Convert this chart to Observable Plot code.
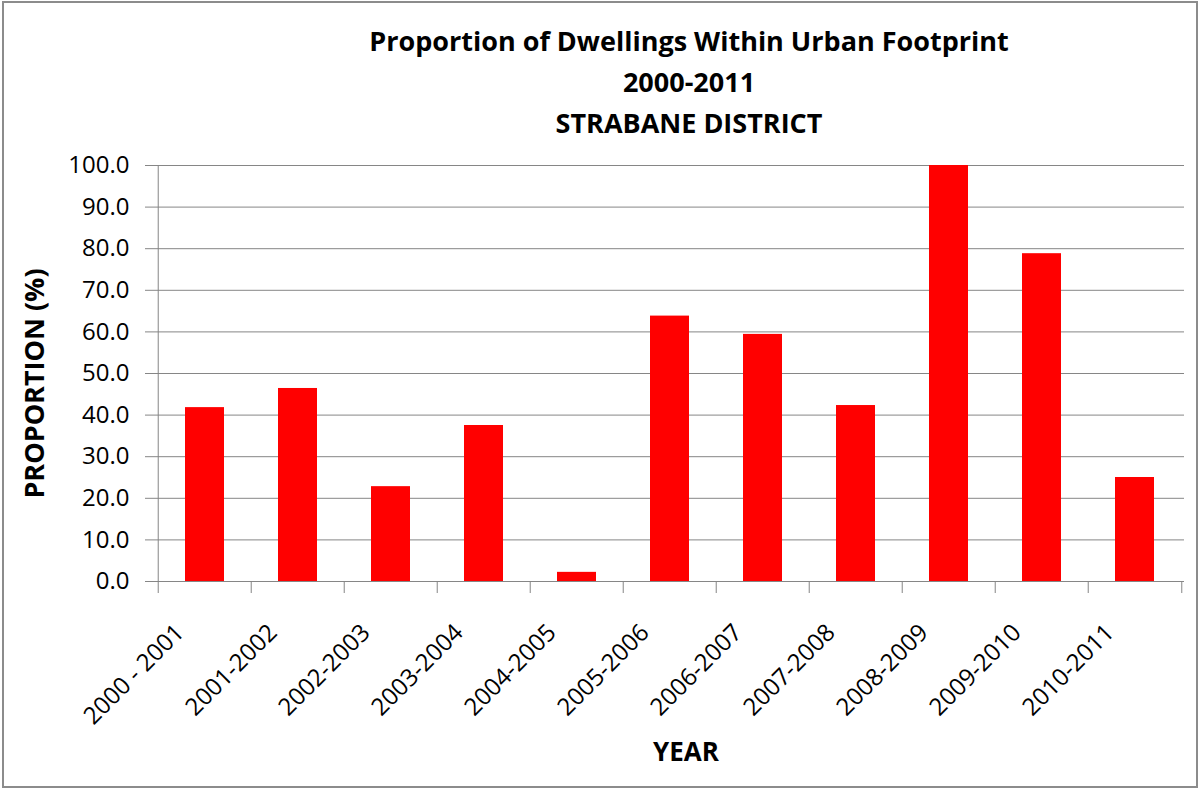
<!DOCTYPE html>
<html><head><meta charset="utf-8">
<script src="https://cdn.jsdelivr.net/npm/d3@7"></script>
<script src="https://cdn.jsdelivr.net/npm/@observablehq/plot@0.6"></script>
<style>
body{margin:0;background:#fff;}
#chart{position:relative;width:1198px;height:788px;overflow:hidden;background:#fff;font-family:"Open Sans",sans-serif;}
#border{position:absolute;left:2px;top:1px;width:1192px;height:783px;border:2px solid #8c8c8c;pointer-events:none;}
#title{height:150px;box-sizing:border-box;padding-top:20px;padding-left:180px;text-align:center;font-weight:bold;font-size:27px;line-height:41px;color:#000;}
#title div{white-space:nowrap;}
svg{display:block}
</style></head>
<body><div id="chart"><div id="title"></div><div id="border"></div></div>
<script>
const titleLines = ["Proportion of Dwellings Within Urban Footprint", "2000-2011", "STRABANE DISTRICT"];
const categories = ["2000 - 2001","2001-2002","2002-2003","2003-2004","2004-2005","2005-2006","2006-2007","2007-2008","2008-2009","2009-2010","2010-2011"];
const values = [41.8, 46.4, 22.8, 37.5, 2.2, 63.8, 59.4, 42.3, 100.0, 78.8, 25.0];
const yTicks = [0,10,20,30,40,50,60,70,80,90,100];
const yLabel = "PROPORTION (%)";
const xLabel = "YEAR";

const data = categories.map((c, i) => ({year: c, value: values[i]}));

const title = document.getElementById("title");
titleLines.forEach(t => { const d = document.createElement("div"); d.textContent = t; title.appendChild(d); });

const W = 1198, H = 638;
const mL = 155, mR = 14, mT = 15, mB = 207;
const step = (W - mL - mR) / categories.length;
const gray = "#868686";

const chart = Plot.plot({
  width: W, height: H,
  marginLeft: mL, marginRight: mR, marginTop: mT, marginBottom: mB,
  style: {fontFamily: "'Open Sans', sans-serif", fontSize: "24px", color: "#000", background: "#fff", overflow: "visible"},
  x: {type: "band", domain: categories, paddingInner: 0.583, paddingOuter: 0.2915, axis: null},
  y: {domain: [0, 100], axis: null},
  marks: [
    Plot.gridY(yTicks, {stroke: gray, strokeOpacity: 1, strokeWidth: 1}),
    Plot.axisY(yTicks, {tickSize: 10, tickPadding: 16, stroke: gray, tickFormat: d3.format(".1f"), fontSize: 24, fill: "#000", label: null}),
    Plot.ruleX([categories[0]], {x: d => d, dx: -step / 2, y1: 0, y2: 100, stroke: gray, strokeWidth: 1}),
    Plot.axisX({tickSize: 12, tickFormat: () => "", dx: -step / 2, stroke: gray, label: null}),
    Plot.axisX([categories[categories.length - 1]], {tickSize: 12, tickFormat: () => "", dx: step / 2, stroke: gray, label: null}),
    Plot.barY(data, {x: "year", y: "value", fill: "#ff0000"}),
    Plot.axisX({tickSize: 0, tickPadding: 47, tickRotate: -45, dx: -25, fontSize: 24, fill: "#000", label: null}),
    Plot.text([yLabel], {frameAnchor: "left", dx: -120, dy: 10, rotate: -90, textAnchor: "middle", lineAnchor: "middle", fontWeight: "bold", fontSize: 27, fill: "#000"}),
    Plot.text([xLabel], {frameAnchor: "bottom", dx: 16, dy: 171, textAnchor: "middle", lineAnchor: "middle", fontWeight: "bold", fontSize: 26, fill: "#000"})
  ]
});
document.getElementById("chart").insertBefore(chart, document.getElementById("border"));
</script>
</body></html>
